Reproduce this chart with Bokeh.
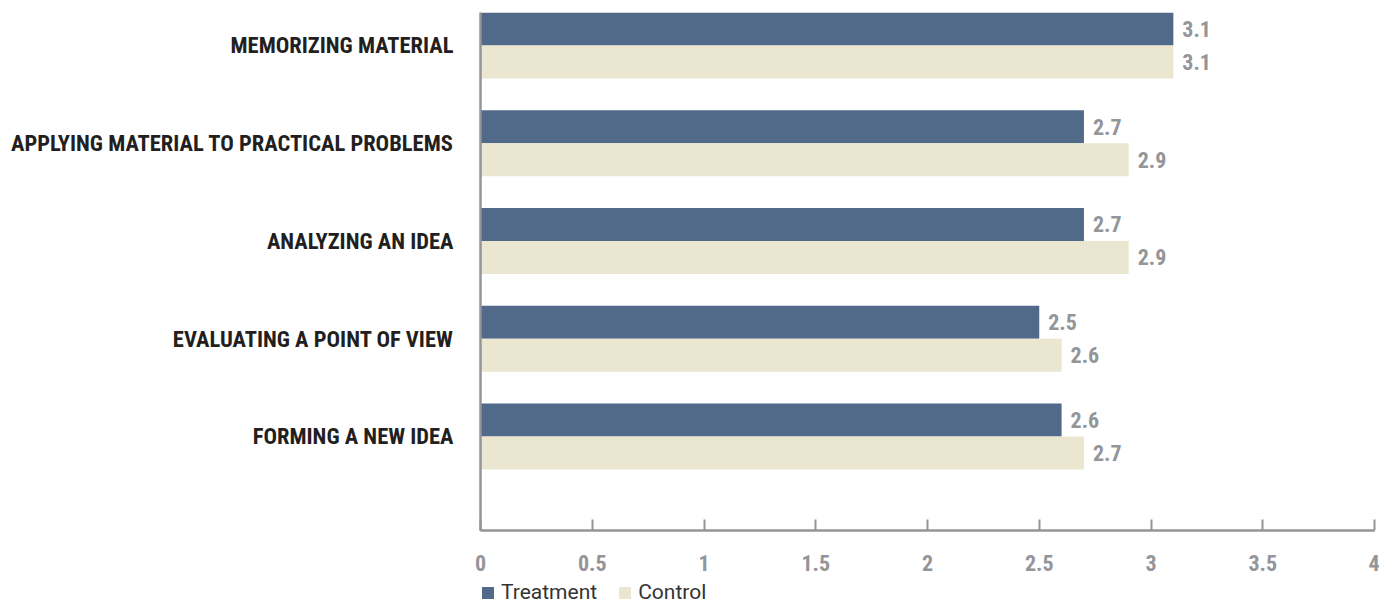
from bokeh.plotting import figure
from bokeh.layouts import column
from bokeh.models import (ColumnDataSource, Range1d, FixedTicker, NumeralTickFormatter,
                          LabelSet, Legend, LegendItem)
from bokeh.core.properties import value
from bokeh.embed import file_html
from bokeh.resources import INLINE

categories = ["MEMORIZING MATERIAL", "APPLYING MATERIAL TO PRACTICAL PROBLEMS",
              "ANALYZING AN IDEA", "EVALUATING A POINT OF VIEW", "FORMING A NEW IDEA"]
treatment = [3.1, 2.7, 2.7, 2.5, 2.6]
control = [3.1, 2.9, 2.9, 2.6, 2.7]
series = ["Treatment", "Control"]
x_ticks = [0, 0.5, 1, 1.5, 2, 2.5, 3, 3.5, 4]

FONT = "Roboto Condensed"
C_TREAT = "#526a89"
C_CTRL = "#ebe6cf"
GREY = "#939598"
DARK = "#231f20"

bar_h = 0.3376
idx = list(range(len(categories)))
src_t = ColumnDataSource(dict(y=[i - bar_h / 2 for i in idx], v=treatment,
                              lbl=[f"{v:.1f}" for v in treatment]))
src_c = ColumnDataSource(dict(y=[i + bar_h / 2 for i in idx], v=control,
                              lbl=[f"{v:.1f}" for v in control]))

p = figure(width=1379, height=580, output_backend="svg", toolbar_location=None,
           x_range=Range1d(0, 4), y_range=Range1d(4.962, -0.3376),
           min_border_left=480, min_border_right=5, min_border_top=12, min_border_bottom=50)
p.outline_line_color = None
p.xgrid.visible = False
p.ygrid.visible = False

p.hbar(y="y", right="v", left=0, height=bar_h, source=src_t, color=C_TREAT, line_color=None)
p.hbar(y="y", right="v", left=0, height=bar_h, source=src_c, color=C_CTRL, line_color=None)

for s in (src_t, src_c):
    p.add_layout(LabelSet(x="v", y="y", text="lbl", source=s, x_offset=9,
                          text_baseline="middle", text_align="left",
                          text_font=value(FONT), text_font_style="bold",
                          text_font_size="22px", text_color=GREY))

# x axis
xa = p.xaxis[0]
xa.ticker = FixedTicker(ticks=x_ticks)
xa.formatter = NumeralTickFormatter(format="0.[0]")
xa.axis_line_color = GREY
xa.axis_line_width = 2.5
xa.major_tick_line_color = GREY
xa.major_tick_line_width = 2
xa.major_tick_in = 11
xa.major_tick_out = 0
xa.minor_tick_line_color = None
xa.major_label_text_font = FONT
xa.major_label_text_font_style = "bold"
xa.major_label_text_font_size = "22px"
xa.major_label_text_color = GREY
xa.major_label_standoff = 24

# y axis with category labels
ya = p.yaxis[0]
ya.ticker = FixedTicker(ticks=idx)
ya.major_label_overrides = {i: c for i, c in zip(idx, categories)}
ya.axis_line_color = GREY
ya.axis_line_width = 2.5
ya.major_tick_line_color = None
ya.minor_tick_line_color = None
ya.major_label_text_font = FONT
ya.major_label_text_font_style = "bold"
ya.major_label_text_font_size = "22.5px"
ya.major_label_text_color = DARK
ya.major_label_standoff = 21

# legend strip below the chart (dummy renderers lie outside the visible range)
p2 = figure(width=1379, height=24, output_backend="svg", toolbar_location=None,
            x_range=Range1d(0, 1), y_range=Range1d(0, 1),
            x_axis_location=None, y_axis_location=None,
            min_border_left=479, min_border_right=0, min_border_top=0, min_border_bottom=0)
p2.outline_line_color = None
p2.xgrid.visible = False
p2.ygrid.visible = False
lt = p2.hbar(y=[-10], right=[0], left=[0], height=0.5, color=C_TREAT, line_color=None)
lc = p2.hbar(y=[-10], right=[0], left=[0], height=0.5, color=C_CTRL, line_color=None)
legend = Legend(items=[LegendItem(label=series[0], renderers=[lt], index=0),
                       LegendItem(label=series[1], renderers=[lc], index=0)],
                orientation="horizontal", location="top_left",
                margin=0, padding=0, spacing=20,
                glyph_width=15, glyph_height=15, label_standoff=6,
                label_height=15, label_text_baseline="middle",
                label_text_font="Roboto", label_text_font_size="21px",
                label_text_color="#333333", border_line_color=None,
                background_fill_alpha=0)
p2.add_layout(legend, "center")

layout = column(p, p2, spacing=0)
open("out.html", "w").write(file_html(layout, INLINE))
